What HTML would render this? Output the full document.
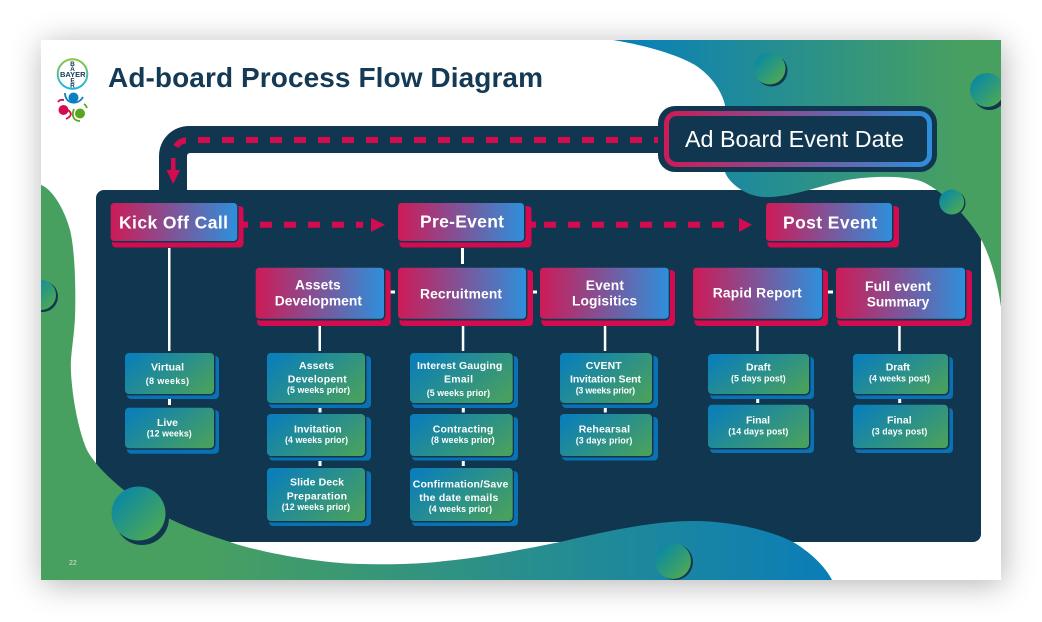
<!DOCTYPE html>
<html><head><meta charset="utf-8"><title>Ad-board Process Flow Diagram</title>
<style>
html,body{margin:0;padding:0;background:#fff;width:1042px;height:622px;overflow:hidden}
#s{position:absolute;left:41px;top:40px;width:960px;height:540px;background:#fff;box-shadow:2px 4px 30px rgba(0,0,0,.3)}
svg{position:absolute;left:0;top:0}
text{font-family:"Liberation Sans",sans-serif;fill:#fff}
.b{font-weight:bold}
.h{font-weight:bold;font-size:17.5px}
.m{font-weight:bold;font-size:13.8px}
.t{font-weight:bold;font-size:10.5px}
.u{font-weight:bold;font-size:8.8px}
</style></head><body>
<div id="s"></div>
<svg width="1042" height="622" viewBox="0 0 1042 622" xmlns="http://www.w3.org/2000/svg">
<defs>
<linearGradient id="r" x1="0" y1="0" x2="1" y2="0"><stop offset="0" stop-color="#cd1b57"/><stop offset="1" stop-color="#2e8fdb"/></linearGradient>
<linearGradient id="g" x1="0" y1="0.2" x2="1" y2="0.8"><stop offset="0" stop-color="#0b7fb8"/><stop offset="1" stop-color="#48a05f"/></linearGradient>
<linearGradient id="c" x1="0.18" y1="0.18" x2="0.92" y2="0.92"><stop offset="0" stop-color="#0f8a9f"/><stop offset="1" stop-color="#50ab50"/></linearGradient>
<linearGradient id="bb" gradientUnits="userSpaceOnUse" x1="200" y1="0" x2="832" y2="0"><stop offset="0" stop-color="#48a060"/><stop offset="1" stop-color="#0a7db8"/></linearGradient>
<linearGradient id="tb" gradientUnits="userSpaceOnUse" x1="630" y1="0" x2="1001" y2="0"><stop offset="0" stop-color="#0a80b8"/><stop offset="0.9" stop-color="#48a060"/></linearGradient>
<linearGradient id="ring" gradientUnits="userSpaceOnUse" x1="664" y1="0" x2="932" y2="0"><stop offset="0" stop-color="#cd1b57"/><stop offset="1" stop-color="#2e8fdb"/></linearGradient>
<linearGradient id="lg" x1="0" y1="0" x2="0" y2="1"><stop offset="0" stop-color="#8cc63f"/><stop offset="1" stop-color="#19b5e8"/></linearGradient>
<clipPath id="sc"><rect x="41" y="40" width="960" height="540"/></clipPath>
</defs>

<!-- connector and panel -->
<path d="M159,195 V156 A30,30 0 0 1 189,126 H670 V153 H190 A3,3 0 0 0 187,156 V195 Z" fill="#113750"/>
<rect x="96" y="190" width="885" height="352" rx="8" fill="#113750"/>

<!-- blobs -->
<g clip-path="url(#sc)">
<path d="M41,185 C52,189 64,208 70,230 C75,250 76,290 75,317 C74,340 70,355 71,372 C72,395 78,430 87,450 C95,466 125,497 170,519 C195,531 215,537 230,542 C255,551 320,564 363,564 C400,565 430,563 445,561 C480,558 520,550 560,542 C600,533 650,521 693,521 C730,521 770,530 793,542 C810,552 825,566 832,580 L41,580 Z" fill="url(#bb)"/>
<path d="M613,40 C650,46 680,56 695,65 C712,76 722,92 725,105 L725,172 C728,182 745,196 763,197 C790,198 815,187 847,180 C870,176 905,175 923,182 C945,192 972,222 983,243 C992,262 998,285 1001,307 L1001,40 Z" fill="url(#tb)"/>
<circle cx="771.500" cy="70.500" r="16" fill="#113750"/><circle cx="769.500" cy="68.500" r="16" fill="url(#c)"/>
<circle cx="989.500" cy="93" r="17" fill="#113750"/><circle cx="987" cy="90" r="17" fill="url(#c)"/>
<circle cx="953" cy="203" r="12.500" fill="#113750"/><circle cx="951.700" cy="202" r="12.500" fill="url(#c)"/>
<circle cx="42.500" cy="296.500" r="15.500" fill="#113750"/><circle cx="41" cy="295" r="15" fill="url(#c)"/>
<circle cx="142" cy="518" r="27" fill="#113750"/><circle cx="138.500" cy="513.500" r="27" fill="url(#c)"/>
<circle cx="675" cy="562" r="18" fill="#113750"/><circle cx="673" cy="561" r="18" fill="url(#c)"/>
</g>

<!-- dashed top line -->
<path d="M198,140 H660" stroke="#d40b4e" stroke-width="6" stroke-dasharray="12 12" fill="none"/>
<path d="M176,146.500 A12,12 0 0 1 186,140.500" stroke="#d40b4e" stroke-width="6" fill="none"/>
<rect x="171" y="158" width="4.500" height="13" fill="#d40b4e"/>
<polygon points="166.500,170 180,170 173.200,184" fill="#d40b4e"/>

<!-- ad board box -->
<rect x="658" y="106" width="279" height="66" rx="17" fill="#113750"/>
<rect x="666.500" y="113.500" width="263" height="51" rx="10" fill="#113750" stroke="url(#ring)" stroke-width="5"/>
<text x="685" y="147" font-size="23.300" textLength="219" lengthAdjust="spacing">Ad Board Event Date</text>

<!-- title and logo -->
<text class="b" x="108" y="87" font-size="28" textLength="435" lengthAdjust="spacing" style="fill:#143a56">Ad-board Process Flow Diagram</text>
<circle cx="72.500" cy="74" r="14.800" fill="#fff" stroke="url(#lg)" stroke-width="2"/>
<text x="60" y="76.800" font-size="7.500" textLength="25.500" lengthAdjust="spacing" style="fill:#143a56;font-weight:bold">BAYER</text>
<g font-size="6.500" style="font-weight:bold">
<text x="72.500" y="66" text-anchor="middle" style="fill:#143a56">B</text>
<text x="72.500" y="71" text-anchor="middle" style="fill:#143a56">A</text>
<text x="72.500" y="82.500" text-anchor="middle" style="fill:#143a56">E</text>
<text x="72.500" y="87.500" text-anchor="middle" style="fill:#143a56">R</text>
</g>
<circle cx="73.500" cy="97.500" r="5" fill="#0b7fc1"/>
<circle cx="63.500" cy="110" r="5" fill="#d40b4e"/>
<circle cx="80" cy="113.500" r="5" fill="#5aa51e"/>
<path d="M65,93 C65,104 78,106 83,97" stroke="#0b7fc1" stroke-width="1.800" fill="none"/>
<path d="M58,102 C60,99 62,100 64,100 M68,110 C72,113 72,116 66,119" stroke="#d40b4e" stroke-width="1.800" fill="none"/>
<path d="M84,104 C86,105 86,106 87,108 M74,109 C71,116 74,121 80,121" stroke="#5aa51e" stroke-width="1.800" fill="none"/>
<text x="69" y="565" font-size="7" style="fill:#d5e8d5">22</text>

<!-- red arrows -->
<path d="M238,224.700 H248" stroke="#d40b4e" stroke-width="6"/>
<path d="M260,224.700 H358" stroke="#d40b4e" stroke-width="6" stroke-dasharray="12 12"/>
<rect x="356" y="221.700" width="7" height="6" fill="#d40b4e"/>
<polygon points="371,218 385,224.700 371,232" fill="#d40b4e"/>
<path d="M530,224.700 H536" stroke="#d40b4e" stroke-width="6"/>
<path d="M544,224.700 H728" stroke="#d40b4e" stroke-width="6" stroke-dasharray="12 12"/>
<polygon points="739,218 752,224.700 739,232" fill="#d40b4e"/>

<!-- white connectors -->
<g fill="#fff">
<rect x="168" y="248" width="2.500" height="103"/>
<rect x="461" y="248" width="3" height="16"/>
<rect x="387" y="290.500" width="8" height="3"/>
<rect x="529" y="290.500" width="8" height="3"/>
<rect x="825" y="290.500" width="8" height="3"/>
<rect x="318.500" y="326" width="2.500" height="25"/>
<rect x="461.800" y="326" width="2.500" height="25"/>
<rect x="603.800" y="326" width="2.500" height="25"/>
<rect x="756.200" y="326" width="2.500" height="25"/>
<rect x="898.200" y="326" width="2.500" height="25"/>
<rect x="168" y="399" width="3" height="6"/>
<rect x="318.500" y="408" width="3" height="4.500"/><rect x="318.500" y="461" width="3" height="5"/>
<rect x="461.800" y="408" width="3" height="4.500"/><rect x="461.800" y="461" width="3" height="5"/>
<rect x="603.800" y="408" width="3" height="4.500"/>
<rect x="756.200" y="399" width="3" height="4"/>
<rect x="898.200" y="399" width="3" height="4"/>
</g>

<!-- red boxes -->
<g>
<rect x="112" y="206" width="131.500" height="41.500" rx="4" fill="#d40b4e"/><rect x="109.500" y="201.500" width="129" height="41" rx="5" fill="#113750"/><rect x="110.700" y="203" width="126.500" height="38" rx="3.500" fill="url(#r)"/>
<rect x="399.500" y="206" width="132" height="41.500" rx="4" fill="#d40b4e"/><rect x="397" y="201.500" width="128.500" height="41" rx="5" fill="#113750"/><rect x="398" y="203" width="126" height="38" rx="3.500" fill="url(#r)"/>
<rect x="767.500" y="206" width="131.500" height="41.500" rx="4" fill="#d40b4e"/><rect x="765" y="201.500" width="128.500" height="41" rx="5" fill="#113750"/><rect x="766" y="203" width="126" height="38" rx="3.500" fill="url(#r)"/>

<rect x="257" y="270" width="133.700" height="56" rx="4" fill="#d40b4e"/><rect x="254.500" y="266.500" width="131" height="54" rx="5" fill="#113750"/><rect x="255.700" y="267.700" width="128.300" height="51" rx="3.500" fill="url(#r)"/>
<rect x="399.500" y="270" width="133.500" height="56" rx="4" fill="#d40b4e"/><rect x="397" y="266.500" width="130.500" height="54" rx="5" fill="#113750"/><rect x="398" y="267.700" width="128" height="51" rx="3.500" fill="url(#r)"/>
<rect x="541.500" y="270" width="133.500" height="56" rx="4" fill="#d40b4e"/><rect x="539" y="266.500" width="131" height="54" rx="5" fill="#113750"/><rect x="540" y="267.700" width="128.700" height="51" rx="3.500" fill="url(#r)"/>
<rect x="694.500" y="270" width="133.500" height="56" rx="4" fill="#d40b4e"/><rect x="692" y="266.500" width="131" height="54" rx="5" fill="#113750"/><rect x="693" y="267.700" width="129" height="51" rx="3.500" fill="url(#r)"/>
<rect x="837.500" y="270" width="134.500" height="56" rx="4" fill="#d40b4e"/><rect x="835" y="266.500" width="131.500" height="54" rx="5" fill="#113750"/><rect x="836" y="267.700" width="129" height="51" rx="3.500" fill="url(#r)"/>
</g>

<!-- green boxes -->
<g>
<rect x="127" y="356" width="92" height="43" rx="4" fill="#0a72b4"/><rect x="124" y="352" width="91.500" height="43.500" rx="5" fill="#113750"/><rect x="125" y="353" width="89" height="41" rx="4" fill="url(#g)"/>
<rect x="127" y="410" width="92" height="43.700" rx="4" fill="#0a72b4"/><rect x="124" y="406.700" width="91.500" height="43" rx="5" fill="#113750"/><rect x="125" y="407.700" width="89" height="40.500" rx="4" fill="url(#g)"/>

<rect x="269" y="356" width="102" height="52" rx="4" fill="#0a72b4"/><rect x="266" y="352" width="100.500" height="52.500" rx="5" fill="#113750"/><rect x="267" y="353" width="98" height="50" rx="4" fill="url(#g)"/>
<rect x="269" y="417" width="102" height="43.500" rx="4" fill="#0a72b4"/><rect x="266" y="413" width="100.500" height="44.500" rx="5" fill="#113750"/><rect x="267" y="414" width="98" height="42" rx="4" fill="url(#g)"/>
<rect x="269" y="471" width="102" height="55" rx="4" fill="#0a72b4"/><rect x="266" y="467" width="100.500" height="55.500" rx="5" fill="#113750"/><rect x="267" y="468" width="98" height="53" rx="4" fill="url(#g)"/>

<rect x="412" y="356" width="106" height="52" rx="4" fill="#0a72b4"/><rect x="409" y="352" width="105" height="52.500" rx="5" fill="#113750"/><rect x="410" y="353" width="102.700" height="50" rx="4" fill="url(#g)"/>
<rect x="412" y="417" width="106" height="43.500" rx="4" fill="#0a72b4"/><rect x="409" y="413" width="105" height="44.500" rx="5" fill="#113750"/><rect x="410" y="414" width="102.700" height="42" rx="4" fill="url(#g)"/>
<rect x="412" y="471" width="106" height="55" rx="4" fill="#0a72b4"/><rect x="409" y="467" width="105" height="55.500" rx="5" fill="#113750"/><rect x="410" y="468" width="102.700" height="53" rx="4" fill="url(#g)"/>

<rect x="562" y="356" width="96" height="52" rx="4" fill="#0a72b4"/><rect x="559" y="352" width="94.500" height="52.500" rx="5" fill="#113750"/><rect x="560" y="353" width="92" height="50" rx="4" fill="url(#g)"/>
<rect x="562" y="417" width="96" height="43.500" rx="4" fill="#0a72b4"/><rect x="559" y="413" width="94.500" height="44.500" rx="5" fill="#113750"/><rect x="560" y="414" width="92" height="42" rx="4" fill="url(#g)"/>

<rect x="710" y="357" width="104" height="42" rx="4" fill="#0a72b4"/><rect x="707" y="353" width="103.500" height="42.500" rx="5" fill="#113750"/><rect x="708" y="354" width="101" height="40" rx="4" fill="url(#g)"/>
<rect x="710" y="408" width="104" height="45" rx="4" fill="#0a72b4"/><rect x="707" y="403.700" width="103.500" height="45.800" rx="5" fill="#113750"/><rect x="708" y="404.700" width="101" height="43.300" rx="4" fill="url(#g)"/>

<rect x="855" y="357" width="98" height="42" rx="4" fill="#0a72b4"/><rect x="852" y="353" width="97.500" height="42.500" rx="5" fill="#113750"/><rect x="853" y="354" width="95" height="40" rx="4" fill="url(#g)"/>
<rect x="855" y="408" width="98" height="45" rx="4" fill="#0a72b4"/><rect x="852" y="403.700" width="97.500" height="45.800" rx="5" fill="#113750"/><rect x="853" y="404.700" width="95" height="43.300" rx="4" fill="url(#g)"/>
</g>

<!-- labels -->
<text class="h" x="119" y="228.700" textLength="109" lengthAdjust="spacing">Kick Off Call</text>
<text class="h" x="420" y="227.700" textLength="84" lengthAdjust="spacing">Pre-Event</text>
<text class="h" x="783" y="228.700" textLength="94" lengthAdjust="spacing">Post Event</text>

<text class="m" x="295" y="289.300" textLength="45.700" lengthAdjust="spacing">Assets</text>
<text class="m" x="274.700" y="305.700" textLength="87.300" lengthAdjust="spacing">Development</text>
<text class="m" x="420" y="298.700" textLength="82" lengthAdjust="spacing">Recruitment</text>
<text class="m" x="585.700" y="290" textLength="38.300" lengthAdjust="spacing">Event</text>
<text class="m" x="572" y="305.700" textLength="65" lengthAdjust="spacing">Logisitics</text>
<text class="m" x="712.700" y="297.700" textLength="89" lengthAdjust="spacing">Rapid Report</text>
<text class="m" x="865" y="291" textLength="66" lengthAdjust="spacing">Full event</text>
<text class="m" x="866.700" y="306.700" textLength="62.600" lengthAdjust="spacing">Summary</text>

<text class="t" x="151" y="370.700" textLength="33" lengthAdjust="spacing">Virtual</text>
<text class="u" x="145.700" y="384" textLength="43.300" lengthAdjust="spacing">(8 weeks)</text>
<text class="t" x="157" y="426" textLength="21" lengthAdjust="spacing">Live</text>
<text class="u" x="146.700" y="436.700" textLength="45" lengthAdjust="spacing">(12 weeks)</text>

<text class="t" x="299" y="369" textLength="35" lengthAdjust="spacing">Assets</text>
<text class="t" x="287.700" y="382.300" textLength="59" lengthAdjust="spacing">Developent</text>
<text class="u" x="287" y="393" textLength="63" lengthAdjust="spacing">(5 weeks prior)</text>
<text class="t" x="294" y="432.300" textLength="47.700" lengthAdjust="spacing">Invitation</text>
<text class="u" x="285" y="443" textLength="63" lengthAdjust="spacing">(4 weeks prior)</text>
<text class="t" x="290" y="485.700" textLength="54" lengthAdjust="spacing">Slide Deck</text>
<text class="t" x="286.700" y="499.300" textLength="60.300" lengthAdjust="spacing">Preparation</text>
<text class="u" x="281.700" y="510" textLength="68.300" lengthAdjust="spacing">(12 weeks prior)</text>

<text class="t" x="417" y="369" textLength="85.300" lengthAdjust="spacing">Interest Gauging</text>
<text class="t" x="444" y="382.300" textLength="29" lengthAdjust="spacing">Email</text>
<text class="u" x="426.700" y="396" textLength="63.300" lengthAdjust="spacing">(5 weeks prior)</text>
<text class="t" x="432.700" y="432.300" textLength="60.600" lengthAdjust="spacing">Contracting</text>
<text class="u" x="431" y="443" textLength="63.700" lengthAdjust="spacing">(8 weeks prior)</text>
<text class="t" x="412.700" y="487.700" textLength="95.600" lengthAdjust="spacing">Confirmation/Save</text>
<text class="t" x="419.300" y="501" textLength="79" lengthAdjust="spacing">the date emails</text>
<text class="u" x="428.700" y="512" textLength="63.300" lengthAdjust="spacing">(4 weeks prior)</text>

<text class="t" x="585.700" y="369" textLength="36" lengthAdjust="spacing">CVENT</text>
<text class="t" x="570" y="382.300" textLength="71" lengthAdjust="spacing">Invitation Sent</text>
<text class="u" x="575.700" y="393.300" textLength="59.300" lengthAdjust="spacing">(3 weeks prior)</text>
<text class="t" x="578.700" y="432.300" textLength="51.300" lengthAdjust="spacing">Rehearsal</text>
<text class="u" x="575.700" y="443.300" textLength="56.600" lengthAdjust="spacing">(3 days prior)</text>

<text class="t" x="746" y="370.700" textLength="24.700" lengthAdjust="spacing">Draft</text>
<text class="u" x="731" y="381.700" textLength="54.700" lengthAdjust="spacing">(5 days post)</text>
<text class="t" x="746" y="423.300" textLength="24" lengthAdjust="spacing">Final</text>
<text class="u" x="728.300" y="434.300" textLength="60" lengthAdjust="spacing">(14 days post)</text>
<text class="t" x="885.700" y="370.700" textLength="24.300" lengthAdjust="spacing">Draft</text>
<text class="u" x="869" y="381.700" textLength="61" lengthAdjust="spacing">(4 weeks post)</text>
<text class="t" x="887" y="423.300" textLength="24.700" lengthAdjust="spacing">Final</text>
<text class="u" x="871.700" y="434.300" textLength="55.600" lengthAdjust="spacing">(3 days post)</text>
</svg>
</body></html>
